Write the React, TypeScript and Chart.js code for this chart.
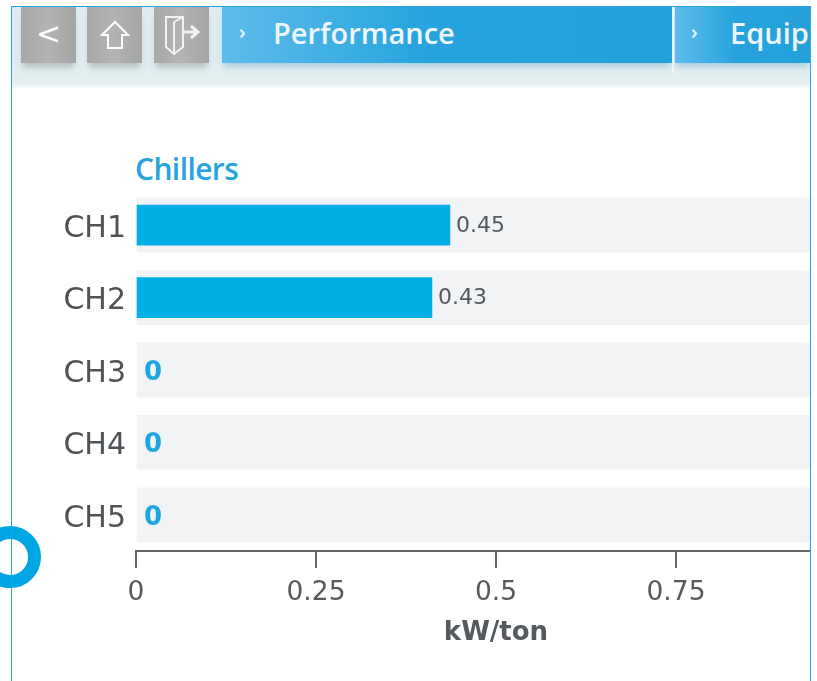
import React, { useEffect, useRef } from "react";
import { Chart, registerables } from "chart.js";

Chart.register(...registerables);

const categories = ["CH1", "CH2", "CH3", "CH4", "CH5"];
const barValues = [0.436, 0.411, 0, 0, 0];
const valueLabels = ["0.45", "0.43", "0", "0", "0"];
const trackValues = [1, 1, 1, 1, 1];
const tickValues = [0, 0.25, 0.5, 0.75, 1];
const axisTitle = "kW/ton";
const sectionTitle = "Chillers";
const tabs = ["Performance", "Equip"];

const BLUE = "#00afe6";
const TEXT = "#555a5e";

const valueLabelPlugin = {
  id: "valueLabels",
  afterDatasetsDraw(chart: any) {
    const meta = chart.getDatasetMeta(0);
    const ctx = chart.ctx;
    ctx.save();
    ctx.textBaseline = "middle";
    meta.data.forEach((el: any, i: number) => {
      const zero = barValues[i] === 0;
      ctx.font = zero ? "bold 26px 'DejaVu Sans'" : "22px 'DejaVu Sans'";
      ctx.fillStyle = zero ? "#1ba7e0" : TEXT;
      ctx.fillText(valueLabels[i], el.x + (zero ? 8 : 6), el.y + (zero ? 3 : 1));
    });
    ctx.restore();
  },
};

function Button({ left, children }: { left: number; children: React.ReactNode }) {
  return (
    <div
      style={{
        position: "absolute",
        left,
        top: 7,
        width: 55,
        height: 56,
        background: "linear-gradient(90deg,#a9a9a9,#b4b3b3 50%,#a5a5a5)",
        boxShadow: "0 7px 6px -2px #b9c3c4",
        color: "#fff",
        display: "flex",
        alignItems: "center",
        justifyContent: "center",
      }}
    >
      {children}
    </div>
  );
}

export default function App() {
  const ref = useRef<HTMLCanvasElement>(null);

  useEffect(() => {
    if (!ref.current) return;
    const chart = new Chart(ref.current, {
      type: "bar",
      data: {
        labels: categories,
        datasets: [
          {
            label: "kW/ton",
            data: barValues,
            backgroundColor: (c: any) => (c.raw === 0 ? "rgba(0,0,0,0)" : BLUE),
            barThickness: 40,
            order: 1,
            grouped: false,
          } as any,
          {
            label: "Track",
            data: trackValues,
            backgroundColor: "#f1f3f4",
            barThickness: 54,
            order: 2,
            grouped: false,
          } as any,
        ],
      },
      options: {
        indexAxis: "y",
        animation: false,
        responsive: false,
        layout: { padding: { top: 189, right: 34, left: 0, bottom: 0 } },
        plugins: { legend: { display: false }, tooltip: { enabled: false } },
        scales: {
          x: {
            type: "linear",
            min: 0,
            max: 1,
            afterFit(s: any) {
              s.height = 130;
            },
            afterBuildTicks(s: any) {
              s.ticks = tickValues.map((value) => ({ value }));
            },
            title: {
              display: true,
              text: axisTitle,
              color: "#555a5e",
              font: { family: "'DejaVu Sans'", size: 26, weight: "bold" },
              padding: { top: 0, bottom: 32 },
            },
            border: { display: true, color: "#666", width: 2 },
            grid: {
              drawOnChartArea: false,
              drawTicks: true,
              color: "#666",
              lineWidth: 2,
              tickLength: 17,
            },
            ticks: {
              color: TEXT,
              padding: 9,
              maxRotation: 0,
              autoSkip: false,
              font: { family: "'DejaVu Sans'", size: 26.5 },
              callback: (v: any) => String(v),
            },
          },
          y: {
            afterFit(s: any) {
              s.width = 136;
            },
            border: { display: false },
            grid: { display: false, drawTicks: false, tickLength: 0 },
            ticks: {
              color: "#4e5358",
              padding: 10,
              labelOffset: 4,
              font: { family: "'DejaVu Sans'", size: 30 },
            },
          },
        },
      },
      plugins: [valueLabelPlugin],
    } as any);
    return () => chart.destroy();
  }, []);

  const tabStyle: React.CSSProperties = {
    position: "absolute",
    top: 7,
    height: 56,
    background: "linear-gradient(90deg,#5dbdec,#27a3dd 45%,#24a1db)",
    color: "#eef6fb",
    fontFamily: "'Open Sans'",
    fontWeight: 600,
    fontSize: 29,
    lineHeight: "51px",
    whiteSpace: "nowrap",
    overflow: "hidden",
    boxShadow: "0 6px 6px -2px #a9cfdf",
  };

  return (
    <div style={{ position: "fixed", left: 0, top: 0, width: 817, height: 681, background: "#fff", overflow: "hidden" }}>
      {/* frame */}
      <div style={{ position: "absolute", left: 11, top: 6, width: 800, height: 675, borderLeft: "1px solid #29a3dc", borderRight: "1px solid #29a3dc", borderTop: "1px solid #29a3dc", boxSizing: "border-box", overflow: "hidden" }} />
      {/* header band */}
      <div style={{ position: "absolute", left: 12, top: 7, width: 798, height: 81, background: "linear-gradient(180deg,#dfecef 70%,#e6f0f2 95%,#f6fafa)" }} />
      <Button left={21}>
        <span style={{ fontFamily: "'DejaVu Sans'", fontSize: 30, marginTop: -4 }}>&lt;</span>
      </Button>
      <Button left={87}>
        <svg width="30" height="34" viewBox="0 0 30 34" fill="none" stroke="#fff" strokeWidth="2">
          <path d="M2 17 L15 4 L28 17 H22 V30 H8 V17 Z" />
        </svg>
      </Button>
      <Button left={154}>
        <svg width="40" height="42" viewBox="0 0 40 42" fill="none" stroke="#f2f2f2" strokeWidth="2">
          <path d="M4 3 H21 V33 L12 40 L4 33 Z M12 8 V40 M21 3 L12 8" />
          <path d="M22 18 H34 M29 12 L36 18 L29 24" strokeWidth="3" />
        </svg>
      </Button>
      <div style={{ ...tabStyle, left: 222, width: 450, paddingLeft: 51, boxSizing: "border-box" }}>
        <span style={{ position: "absolute", left: 17, top: -1, fontSize: 20 }}>›</span>
        {tabs[0]}
      </div>
      <div style={{ position: "absolute", left: 672, top: 7, width: 2, height: 65, background: "#eef6fa" }} />
      <div style={{ ...tabStyle, left: 675, width: 135, paddingLeft: 55, boxSizing: "border-box" }}>
        <span style={{ position: "absolute", left: 16, top: -1, fontSize: 20 }}>›</span>
        {tabs[1]}
      </div>
      {/* section title */}
      <div style={{ position: "absolute", left: 135, top: 151, color: "#29a3dc", fontFamily: "'Open Sans'", fontWeight: 600, fontSize: 30, lineHeight: "36px", letterSpacing: -0.6 }}>
        {sectionTitle}
      </div>
      {/* chart clipped by the frame */}
      <div style={{ position: "absolute", left: 0, top: 0, width: 810, height: 681, overflow: "hidden" }}>
        <canvas ref={ref} width={890} height={681} style={{ display: "block" }} />
      </div>
      {/* ring marker */}
      <svg width="50" height="70" style={{ position: "absolute", left: 0, top: 522 }}>
        <circle cx="10" cy="35" r="24.5" fill="none" stroke="#00a6e2" strokeWidth="13" />
        <line x1="11.5" y1="0" x2="11.5" y2="70" stroke="#29a3dc" strokeWidth="1" />
      </svg>
    </div>
  );
}
